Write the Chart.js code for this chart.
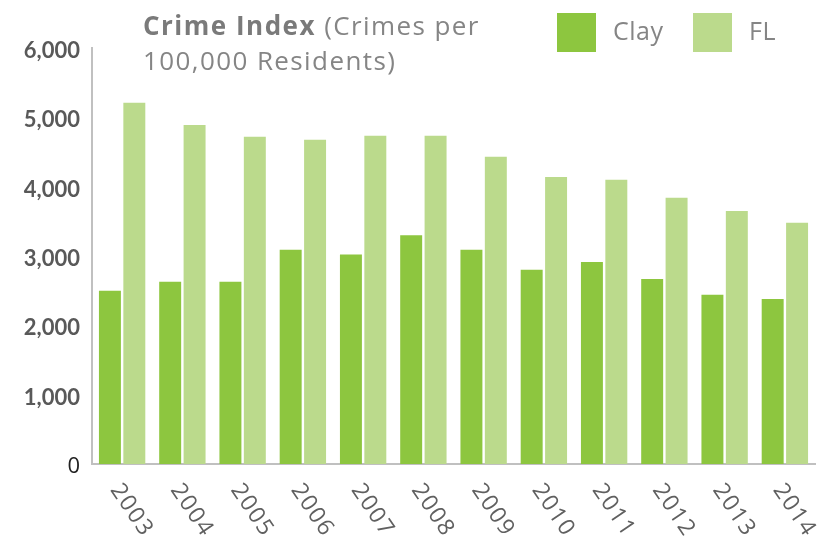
<!DOCTYPE html>
<html>
<head>
<meta charset="utf-8">
<script src="https://cdn.jsdelivr.net/npm/chart.js@4"></script>
<style>
  body { margin: 0; background: #fff; }
  canvas { display: block; }
</style>
</head>
<body>
<canvas id="crimeChart" width="825" height="540"></canvas>
<script>
// Crime index per 100,000 residents
const years = ['2003', '2004', '2005', '2006', '2007', '2008', '2009', '2010', '2011', '2012', '2013', '2014'];
const clayValues = [2500, 2630, 2630, 3090, 3020, 3300, 3090, 2800, 2915, 2670, 2440, 2380];
const flValues = [5210, 4890, 4720, 4675, 4735, 4735, 4430, 4140, 4100, 3840, 3650, 3480];
const seriesNames = ['Clay', 'FL'];
const seriesColors = ['#8dc63f', '#bbda8c'];

const textFont = '"Open Sans", sans-serif';
const tickFont = 'Lato, "Open Sans", sans-serif';

// title, legend and slanted year labels drawn by hand
const extrasPlugin = {
    id: 'extras',
    afterDraw(chart) {
        const ctx = chart.ctx;
        const xScale = chart.scales.x;
        const area = chart.chartArea;
        ctx.save();

        // title
        ctx.textBaseline = 'alphabetic';
        ctx.textAlign = 'left';
        ctx.fillStyle = '#7a7a7a';
        ctx.letterSpacing = '1.5px';
        ctx.font = 'bold 26px ' + textFont;
        ctx.fillText('Crime Index', 143, 35);
        const w = ctx.measureText('Crime Index ').width;
        ctx.fillStyle = '#858585';
        ctx.letterSpacing = '1.4px';
        ctx.font = '26px ' + textFont;
        ctx.fillText('(Crimes per', 143 + w, 35);
        ctx.fillText('100,000 Residents)', 143, 70);

        // legend
        const legendX = [557, 693];
        ctx.letterSpacing = '0.5px';
        ctx.font = '25px ' + textFont;
        ctx.textBaseline = 'middle';
        seriesNames.forEach((name, i) => {
            ctx.fillStyle = seriesColors[i];
            ctx.fillRect(legendX[i], 13, 39, 39);
            ctx.fillStyle = '#858585';
            ctx.fillText(name, legendX[i] + 56, 33);
        });

        // year labels, rotated clockwise
        ctx.letterSpacing = '1.5px';
        ctx.font = '23px ' + textFont;
        ctx.fillStyle = '#606060';
        years.forEach((year, i) => {
            const x = xScale.getPixelForValue(i);
            ctx.save();
            ctx.translate(x - 7, area.bottom + 22);
            ctx.rotate(56 * Math.PI / 180);
            ctx.textAlign = 'left';
            ctx.textBaseline = 'middle';
            ctx.fillText(year, 0, 0);
            ctx.restore();
        });
        ctx.restore();
    }
};

new Chart(document.getElementById('crimeChart'), {
    type: 'bar',
    data: {
        labels: years,
        datasets: [
            { label: seriesNames[0], data: clayValues, backgroundColor: seriesColors[0] },
            { label: seriesNames[1], data: flValues, backgroundColor: seriesColors[1] }
        ]
    },
    options: {
        responsive: false,
        animation: false,
        barPercentage: 0.9,
        categoryPercentage: 0.81,
        layout: { padding: { top: 48, right: 10, left: 0, bottom: 0 } },
        plugins: {
            legend: { display: false },
            tooltip: { enabled: false }
        },
        scales: {
            x: {
                grid: { display: false },
                border: { display: true, color: '#c0c0c0', width: 2 },
                ticks: { display: false },
                afterFit: (scale) => { scale.height = 76; }
            },
            y: {
                min: 0,
                max: 6000,
                grid: { display: false, drawTicks: false },
                border: { display: true, color: '#c0c0c0', width: 2 },
                ticks: {
                    stepSize: 1000,
                    padding: 12,
                    labelOffset: 3,
                    color: (c) => c.tick.value === 0 ? '#222222' : '#595959',
                    font: (c) => c.tick && c.tick.value === 0
                        ? { family: textFont, size: 22, weight: 'normal' }
                        : { family: tickFont, size: 22, weight: 'bold' },
                    callback: (v) => v.toLocaleString('en-US')
                },
                afterFit: (scale) => { scale.width = 92; }
            }
        }
    },
    plugins: [extrasPlugin]
});
</script>
</body>
</html>
